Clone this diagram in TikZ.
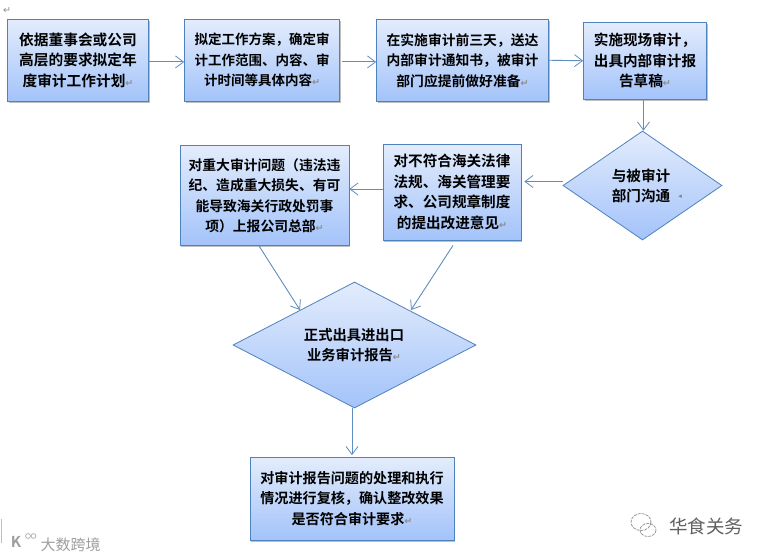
\documentclass[tikz,border=0pt]{standalone}
\usepackage{fontspec}
\setmainfont{Noto Sans CJK SC}[BoldFont={Noto Sans CJK SC Bold}]
\newfontfamily\symfont{DejaVu Sans}
\usetikzlibrary{arrows.meta,shapes.geometric,shadows}
\definecolor{edgeblue}{HTML}{4F81BD}
\definecolor{arrowblue}{HTML}{5F8DC0}
\definecolor{fillTop}{HTML}{E3ECFC}
\definecolor{fillBot}{HTML}{A3C3FA}
\newcommand{\retmark}{{\symfont\fontsize{9.5}{9.5}\selectfont\textcolor{black!45}{↵}}}
\tikzset{
  x=1pt,y=-1pt,
  flowbox/.style={rectangle,draw=edgeblue,line width=.8pt,top color=fillTop,bottom color=fillBot,
    inner sep=0pt,align=center,text=black,
    general shadow={shadow xshift=1pt,shadow yshift=-1.6pt,fill=black!55,opacity=.45}},
  flowdia/.style={diamond,draw=edgeblue,line width=.8pt,top color=fillTop,bottom color=fillBot,
    inner sep=0pt,align=center,text=black},
  txt/.style={font=\fontsize{#1}{20.5}\selectfont\bfseries,
    execute at begin node={\rule{0pt}{16pt}}},
  link/.style={draw=arrowblue,line width=.9pt,-{Straight Barb[length=8pt,width=12pt,line width=.8pt]}}
}
\begin{document}
\begin{tikzpicture}
\useasboundingbox (0,0) rectangle (765,559);
\fill[white] (0,0) rectangle (765,559);
\node[inner sep=0pt] (topmark) at (7,11) {\retmark};

\node[flowbox,txt=14.7,minimum width=141pt,minimum height=81.5pt] (a) at (78,60.25)
  {依据董事会或公司\\高层的要求拟定年\\度审计工作计划\retmark};
\node[flowbox,txt=13.5,minimum width=155pt,minimum height=81.5pt] (b) at (262,60.25)
  {拟定工作方案，确定审\\计工作范围、内容、审\\计时间等具体内容\retmark};
\node[flowbox,txt=13.8,minimum width=172pt,minimum height=81.5pt] (c) at (462.5,60.25)
  {在实施审计前三天，送达\\内部审计通知书，被审计\\部门应提前做好准备\retmark};
\node[flowbox,txt=14.6,minimum width=123pt,minimum height=76.5pt] (d) at (645,60.75)
  {实施现场审计，\\出具内部审计报\\告草稿\retmark};
\node[flowdia,minimum width=159pt,minimum height=109pt,shape aspect=1.46] (e) at (642.5,185.5) {};
\node[txt=14.6,inner sep=0pt,align=center] (etext) at (641,186) {与被审计\\部门沟通};
\node[inner sep=0pt,text=black!50] (emark) at (680,197) {\symfont\fontsize{7}{7}\selectfont ◂};
\node[flowbox,txt=14.6,minimum width=138pt,minimum height=96pt] (f) at (452,192)
  {对不符合海关法律\\法规、海关管理要\\求、公司规章制度\\的提出改进意见\retmark};
\node[flowbox,txt=13.8,minimum width=169pt,minimum height=100pt] (g) at (264.5,195.5)
  {对重大审计问题（违法违\\纪、造成重大损失、有可\\能导致海关行政处罚事\\项）上报公司总部\retmark};
\node[flowdia,minimum width=243pt,minimum height=126pt,shape aspect=1.93] (h) at (354.5,345) {};
\node[txt=14.3,inner sep=0pt,align=center] (htext) at (354,345) {正式出具进出口\\业务审计报告\retmark};
\node[flowbox,txt=14.1,minimum width=204pt,minimum height=83pt] (i) at (352,498.5)
  {对审计报告问题的处理和执行\\情况进行复核，确认整改效果\\是否符合审计要求\retmark};

\draw[link] ([yshift=-1.7pt]a.east) -- ([yshift=-1.7pt]b.west);
\draw[link] ([xshift=2pt,yshift=-1.7pt]b.east) -- ([yshift=-1.7pt]c.west);
\draw[link] (c.east) -- (d.west);
\draw[link] ([xshift=-1.5pt]d.south) -- ([xshift=1pt]e.north);
\draw[link] ([yshift=4pt]e.west) -- ([xshift=3pt,yshift=10.5pt]f.east);
\draw[link] ([yshift=3pt]f.west) -- ([yshift=6.5pt]g.east);
\draw[link] ([xshift=-5.5pt]g.south) -- (300,310);
\draw[link] ([xshift=1pt,yshift=-5pt]f.south) -- (411,310);
\draw[link] ([xshift=-2.5pt]h.south) -- ([yshift=1.5pt]i.north);

% watermarks
\draw[black!25,line width=.6pt] (1,519) -- (1,543);
\node[inner sep=0pt,text=black!38,font=\fontsize{15}{15}\selectfont] (wm1) at (70.5,544.5) {大数跨境};
\node[inner sep=0pt,text=black!38,font=\fontsize{15}{15}\selectfont\bfseries] (wm1logo) at (16,542) {K};
\draw[black!30,line width=.8pt] (28,536) circle (2.4);
\draw[black!30,line width=.8pt] (33.5,536) circle (2.4);
\node[inner sep=0pt,text=black!62,font=\fontsize{18.5}{18.5}\selectfont] (wm2) at (706,526) {华食关务};
\draw[black!45,line width=.7pt,dash pattern=on 3pt off 1pt] (641,522) ellipse (10 and 8.5);
\draw[black!45,line width=.7pt,dash pattern=on 3pt off 1pt] (648,530) ellipse (8 and 6.5);
\end{tikzpicture}
\end{document}
